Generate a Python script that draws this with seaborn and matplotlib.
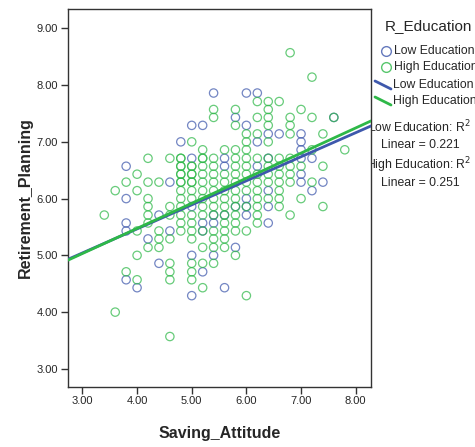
import matplotlib
matplotlib.use("Agg")
import matplotlib.pyplot as plt
import seaborn as sns
import pandas as pd
from matplotlib.lines import Line2D

# Saving_Attitude (mean of 5 items) vs Retirement_Planning (mean of 7 items)
low_x = (
    [3.8] * 5 + [4.0] + [4.2] + [4.4] * 2 + [4.6] * 2 + [4.8] + [5.0] * 5 + [5.2] * 4
    + [5.4] * 4 + [5.6] * 4 + [5.8] * 3 + [6.0] * 5 + [6.2] * 3 + [6.4] * 5 + [6.6]
    + [7.0] * 6 + [7.2] * 2 + [7.4] + [7.6]
)
low_y = (
    [6.57, 6.00, 5.57, 5.43, 4.57]            # 3.8
    + [4.43]                                   # 4.0
    + [5.29]                                   # 4.2
    + [5.71, 4.86]                             # 4.4
    + [6.29, 5.43]                             # 4.6
    + [7.00]                                   # 4.8
    + [7.29, 6.71, 5.86, 5.00, 4.29]           # 5.0
    + [7.29, 5.57, 5.43, 4.71]                 # 5.2
    + [7.86, 5.71, 5.57, 5.00]                 # 5.4
    + [6.71, 6.57, 5.71, 4.43]                 # 5.6
    + [7.43, 5.86, 5.14]                       # 5.8
    + [7.86, 7.29, 6.00, 5.86, 5.71]           # 6.0
    + [7.86, 7.00, 6.57]                       # 6.2
    + [7.14, 6.71, 6.14, 5.86, 5.57]           # 6.4
    + [7.14]                                   # 6.6
    + [7.14, 7.00, 6.86, 6.71, 6.43, 6.29]     # 7.0
    + [6.71, 6.14]                             # 7.2
    + [6.29]                                   # 7.4
    + [7.43]                                   # 7.6
)

high_x = (
    [3.4] + [3.6] * 2 + [3.8] * 2 + [4.0] * 5 + [4.2] * 7 + [4.4] * 4 + [4.6] * 8
    + [4.8] * 14 + [5.0] * 16 + [5.2] * 14 + [5.4] * 14 + [5.6] * 11 + [5.8] * 14
    + [6.0] * 11 + [6.2] * 11 + [6.4] * 10 + [6.6] * 8 + [6.8] * 9 + [7.0] * 3
    + [7.2] * 4 + [7.4] * 3 + [7.6] + [7.8]
)
high_y = (
    [5.71]                                                             # 3.4
    + [6.14, 4.00]                                                     # 3.6
    + [6.29, 4.71]                                                     # 3.8
    + [6.43, 6.14, 5.43, 5.00, 4.57]                                   # 4.0
    + [6.71, 6.29, 6.00, 5.86, 5.71, 5.57, 5.14]                       # 4.2
    + [6.29, 5.43, 5.29, 5.14]                                         # 4.4
    + [6.71, 5.86, 5.71, 5.29, 4.86, 4.71, 4.57, 3.57]                 # 4.6
    + [6.71, 6.71, 6.57, 6.57, 6.43, 6.43, 6.29, 6.29, 6.14, 6.00,
       5.86, 5.71, 5.57, 5.43]                                         # 4.8
    + [7.00, 6.57, 6.57, 6.43, 6.43, 6.29, 6.29, 6.14, 6.00, 5.71,
       5.57, 5.43, 5.29, 4.86, 4.71, 4.57]                             # 5.0
    + [6.86, 6.71, 6.71, 6.57, 6.43, 6.29, 6.14, 6.00, 5.86, 5.71,
       5.43, 5.14, 4.86, 4.43]                                         # 5.2
    + [7.57, 7.43, 6.71, 6.57, 6.43, 6.29, 6.14, 6.00, 5.86, 5.71,
       5.43, 5.29, 5.14, 4.86]                                         # 5.4
    + [6.86, 6.43, 6.29, 6.14, 6.00, 5.86, 5.71, 5.57, 5.43, 5.29,
       5.14]                                                           # 5.6
    + [7.57, 7.29, 6.86, 6.71, 6.57, 6.43, 6.29, 6.14, 6.00, 5.86,
       5.71, 5.57, 5.43, 5.00]                                         # 5.8
    + [7.14, 7.00, 6.86, 6.71, 6.57, 6.43, 6.29, 6.14, 5.86, 5.43,
       4.29]                                                           # 6.0
    + [7.71, 7.43, 7.14, 6.71, 6.43, 6.29, 6.14, 6.00, 5.86, 5.71,
       5.57]                                                           # 6.2
    + [7.71, 7.57, 7.43, 7.29, 7.00, 6.71, 6.57, 6.43, 6.29, 6.00]     # 6.4
    + [7.71, 6.71, 6.57, 6.43, 6.29, 6.14, 6.00, 5.86]                 # 6.6
    + [8.57, 7.43, 7.29, 7.14, 6.71, 6.57, 6.43, 6.29, 5.71]           # 6.8
    + [7.57, 6.57, 6.00]                                               # 7.0
    + [8.14, 7.43, 6.86, 6.29]                                         # 7.2
    + [7.14, 6.57, 5.86]                                               # 7.4
    + [7.43]                                                           # 7.6
    + [6.86]                                                           # 7.8
)

groups = ["Low Education", "High Education"]
r2_values = [0.221, 0.251]
x_ticks = [3.00, 4.00, 5.00, 6.00, 7.00, 8.00]
y_ticks = [3.00, 4.00, 5.00, 6.00, 7.00, 8.00, 9.00]

df = pd.concat([
    pd.DataFrame({"Saving_Attitude": low_x, "Retirement_Planning": low_y,
                  "R_Education": groups[0]}),
    pd.DataFrame({"Saving_Attitude": high_x, "Retirement_Planning": high_y,
                  "R_Education": groups[1]}),
], ignore_index=True)

BLUE = "#3E58AC"
GREEN = "#2EB848"
palette = {groups[0]: BLUE, groups[1]: GREEN}

sns.set_style("white")
plt.rcParams["font.family"] = ["Liberation Sans", "DejaVu Sans"]

W, H = 475, 447
fig = plt.figure(figsize=(W / 100, H / 100), dpi=100)
ax = fig.add_axes([68 / W, 1 - 386.7 / H, (371 - 68) / W, (386.7 - 9.3) / H])
ax.set_xlim(2.736, 8.28)
ax.set_ylim(2.686, 9.335)

for g in groups:
    sub = df[df["R_Education"] == g]
    sns.scatterplot(data=sub, x="Saving_Attitude", y="Retirement_Planning", ax=ax,
                    s=36, fc="none", ec=palette[g], linewidth=0.9, alpha=0.72,
                    legend=False, zorder=2)
for g in groups:
    sub = df[df["R_Education"] == g]
    sns.regplot(data=sub, x="Saving_Attitude", y="Retirement_Planning", ax=ax,
                scatter=False, ci=None, truncate=False,
                line_kws={"color": palette[g], "lw": 2.0, "zorder": 3})

ax.set_xlim(2.736, 8.28)
ax.set_ylim(2.686, 9.335)
ax.set_xticks(x_ticks)
ax.set_yticks(y_ticks)
ax.set_xticklabels([f"{v:.2f}" for v in x_ticks])
ax.set_yticklabels([f"{v:.2f}" for v in y_ticks])
ax.tick_params(axis="both", direction="out", length=5, width=1, color="#333333",
               labelsize=8, pad=2, left=True, bottom=True)
for sp in ax.spines.values():
    sp.set_color("#333333")
    sp.set_linewidth(1.0)
ax.set_xlabel("Saving_Attitude", fontsize=11.5, fontweight="bold", labelpad=14)
ax.set_ylabel("Retirement_Planning", fontsize=11.5, fontweight="bold", labelpad=3)

# legend panel in pixel coordinates, clipped at the plot frame
lax = fig.add_axes([372 / W, 0, (W - 372) / W, 1])
lax.set_xlim(372, W)
lax.set_ylim(H, 0)
lax.axis("off")

lax.text(428, 26, "R_Education", fontsize=11, ha="center", va="center", clip_on=True)
for i, g in enumerate(groups):
    yy = 51 + 16 * i
    lax.add_line(Line2D([386], [yy], marker="o", markersize=7, mfc="none",
                        mec=palette[g], mew=1.0, alpha=0.8))
    lax.text(394, yy, g, fontsize=8.8, ha="left", va="center", clip_on=True)
for i, g in enumerate(groups):
    yy = 85 + 16 * i
    lax.add_line(Line2D([375, 391], [yy - 4, yy + 4], color=palette[g], lw=2.0))
    lax.text(393, yy, g, fontsize=8.8, ha="left", va="center", clip_on=True)
for i, (g, r2) in enumerate(zip(groups, r2_values)):
    y0 = 127 + 38 * i
    lax.text(419, y0, f"{g}: R$^2$", fontsize=8.8, ha="center", va="center",
             clip_on=True)
    lax.text(420, y0 + 18, f"Linear = {r2:.3f}", fontsize=8.8, ha="center",
             va="center", clip_on=True)

fig.savefig("out.png", dpi=100)
